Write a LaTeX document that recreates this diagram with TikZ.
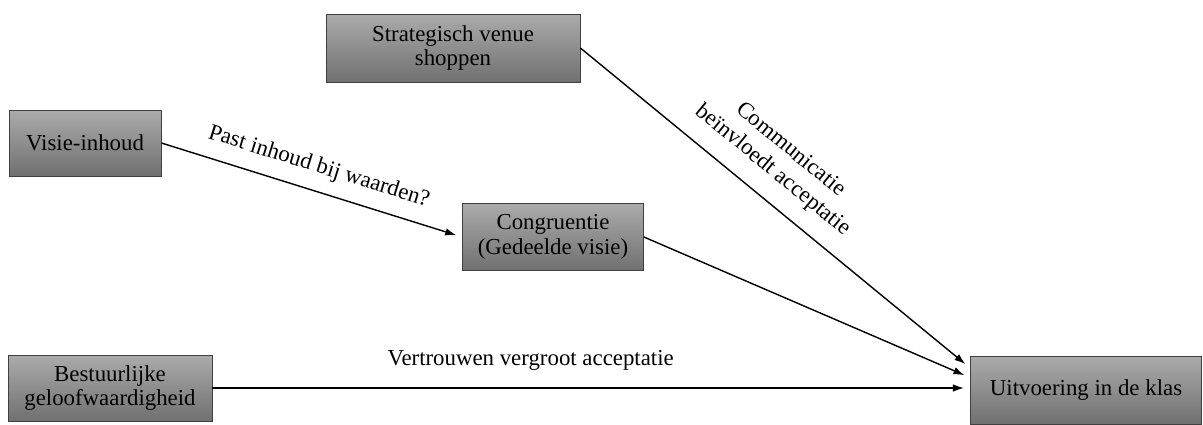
\documentclass[tikz,border=0pt]{standalone}
\usepackage{fontspec}
\setmainfont{Liberation Serif}
\usetikzlibrary{arrows.meta,calc}

\tikzset{
  factor/.style={draw=black!75, line width=0.5pt, top color=black!33, bottom color=black!56,
    align=center, inner sep=2pt, font=\fontsize{13}{14}\selectfont},
  link/.style={line width=0.8pt, -{Latex[length=2.2mm,width=1.5mm]}, shorten >=3.5pt},
  linklabel/.style={font=\fontsize{13}{15.5}\selectfont, align=center}
}

\begin{document}
\begin{tikzpicture}[x=0.02cm, y=-0.02cm]

        \useasboundingbox (0,0) rectangle (1203,424);

        % The factors
        \node[factor, minimum width=5.08cm, minimum height=1.36cm] (shop) at (453,48) {Strategisch venue\\shoppen};
        \node[factor, minimum width=3.04cm, minimum height=1.32cm] (visie) at (85,143) {Visie-inhoud};
        \node[factor, minimum width=3.62cm, minimum height=1.34cm] (congr) at (553,237) {Congruentie\\(Gedeelde visie)};
        \node[factor, minimum width=4.08cm, minimum height=1.32cm] (bestuur) at (110,388) {Bestuurlijke\\geloofwaardigheid};
        \node[factor, minimum width=4.62cm, minimum height=1.36cm] (uitv) at (1086,390) {Uitvoering in de klas};

        % Where the arrows come in at the classroom
        \coordinate (inshop) at ($(uitv.north west)!0.18!(uitv.south west)$);
        \coordinate (incongr) at ($(uitv.north west)!0.32!(uitv.south west)$);

        % The connections
        \draw[link] (visie.east) -- (congr.west)
            node[linklabel, midway, sloped, above=4pt] {Past inhoud bij waarden?};
        \draw[link] (shop.east) -- (inshop)
            node[linklabel, pos=0.45, sloped, above=6pt] {Communicatie\\beïnvloedt acceptatie};
        \draw[link] (congr.east) -- (incongr);
        \draw[link] (bestuur.east) -- (bestuur.east -| uitv.west)
            node[linklabel, pos=0.42, above=6pt] {Vertrouwen vergroot acceptatie};

    \end{tikzpicture}
\end{document}
